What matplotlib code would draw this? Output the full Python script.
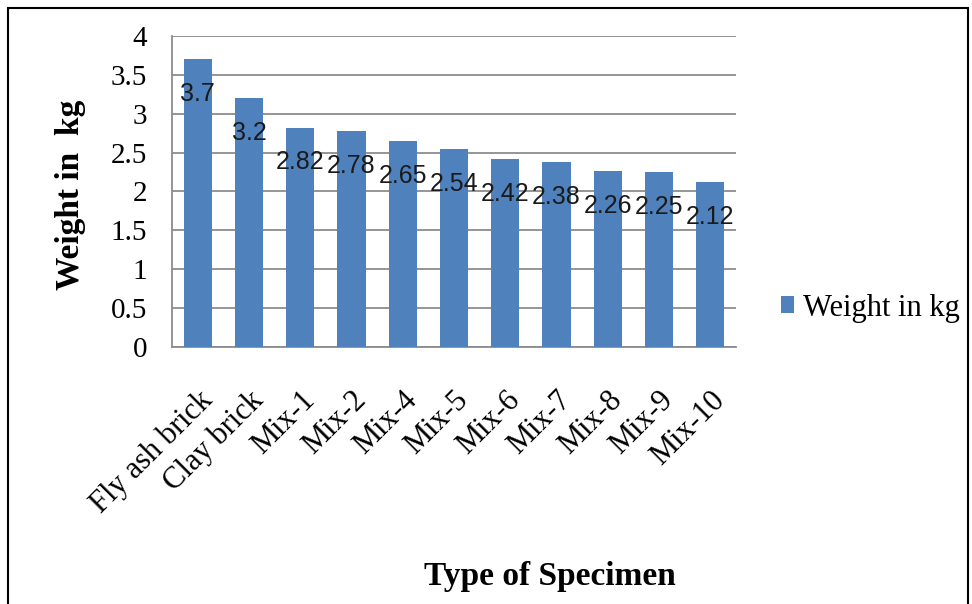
import matplotlib.pyplot as plt
from matplotlib.patches import Rectangle

specimens = ["Fly ash brick", "Clay brick", "Mix-1", "Mix-2", "Mix-4", "Mix-5",
             "Mix-6", "Mix-7", "Mix-8", "Mix-9", "Mix-10"]
weights = [3.7, 3.2, 2.82, 2.78, 2.65, 2.54, 2.42, 2.38, 2.26, 2.25, 2.12]
weight_labels = ["3.7", "3.2", "2.82", "2.78", "2.65", "2.54", "2.42", "2.38", "2.26", "2.25", "2.12"]

bar_color = "#4F81BD"
serif = ["Liberation Serif", "DejaVu Serif"]

fig = plt.figure(figsize=(9.72, 6.04), dpi=100)
ax = fig.add_axes([0.177, 0.4255, 0.580, 0.515])

x = list(range(len(specimens)))
bars = ax.bar(x, weights, width=0.55, color=bar_color, label="Weight in kg", zorder=3)

# value labels sit just below each bar top
for b, txt in zip(bars, weight_labels):
    ax.annotate(txt, (b.get_x() + b.get_width() / 2, b.get_height()),
                xytext=(0, -25), textcoords="offset points", ha="center", va="center",
                fontsize=18, color="#1a1a1a", family=["Liberation Sans", "DejaVu Sans"],
                zorder=4)

ax.set_ylim(0, 4)
ax.set_xlim(-0.5, len(specimens) - 0.5)
ax.set_yticks([0, 0.5, 1, 1.5, 2, 2.5, 3, 3.5, 4])
ax.set_yticklabels(["0", "0.5", "1", "1.5", "2", "2.5", "3", "3.5", "4"],
                   fontsize=21, family=serif)
ax.set_xticks(x)
ax.set_xticklabels(specimens, rotation=45, ha="right", rotation_mode="anchor",
                   fontsize=22, family=serif)
ax.tick_params(axis="y", length=0, pad=18)
ax.tick_params(axis="x", length=0, pad=28)

ax.yaxis.grid(True, color="#8c8c8c", linewidth=1.3, zorder=0)
for side in ("top", "right"):
    ax.spines[side].set_visible(False)
ax.spines["left"].set_color("#8c8c8c")
ax.spines["bottom"].set_color("#8c8c8c")
ax.spines["left"].set_linewidth(1.3)
ax.spines["bottom"].set_linewidth(1.3)

ax.set_ylabel("Weight in  kg", fontsize=24, fontweight="bold", family=serif,
              va="center")
ax.yaxis.set_label_coords(-0.181, 0.49)
fig.text(0.566, 0.045, "Type of Specimen", fontsize=24, fontweight="bold",
         family=serif, ha="center", va="center")

fig.legend(handles=[bars], labels=["Weight in kg"], loc="center left",
           bbox_to_anchor=(0.803, 0.49), frameon=False, handlelength=0.45,
           handleheight=0.45, handletextpad=0.3, borderpad=0, borderaxespad=0,
           prop={"family": serif, "size": 22})

# outer frame
fig.add_artist(Rectangle((8 / 972, -0.05), 960 / 972, 1 - 8 / 604 + 0.05,
                         transform=fig.transFigure, fill=False, edgecolor="black",
                         linewidth=1.5))

fig.savefig("out.png", dpi=100)
